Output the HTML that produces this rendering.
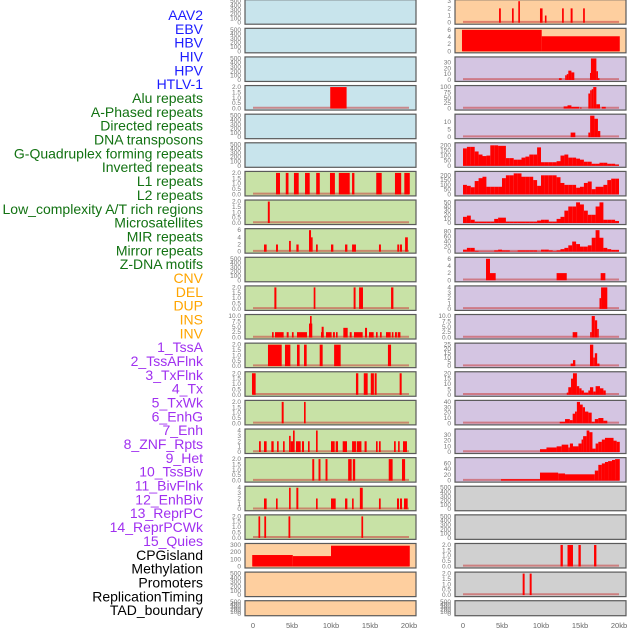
<!DOCTYPE html>
<html><head><meta charset="utf-8">
<style>
html,body{margin:0;padding:0;background:#fff;}
svg{display:block;font-family:"Liberation Sans",sans-serif;}
</style></head>
<body>
<svg id="chart" width="630" height="630" viewBox="0 0 630 630"></svg>
<script>
// ---------- data ----------
const labels = ["AAV2","EBV","HBV","HIV","HPV","HTLV-1","Alu repeats","A-Phased repeats","Directed repeats","DNA transposons","G-Quadruplex forming repeats","Inverted repeats","L1 repeats","L2 repeats","Low_complexity A/T rich regions","Microsatellites","MIR repeats","Mirror repeats","Z-DNA motifs","CNV","DEL","DUP","INS","INV","1_TssA","2_TssAFlnk","3_TxFlnk","4_Tx","5_TxWk","6_EnhG","7_Enh","8_ZNF_Rpts","9_Het","10_TssBiv","11_BivFlnk","12_EnhBiv","13_ReprPC","14_ReprPCWk","15_Quies","CPGisland","Methylation","Promoters","ReplicationTiming","TAD_boundary"];
const labelGroups = [6,13,5,15,5];
const groupColors = ["#1c1cff","#127212","#ffa500","#a030f0","#000000"];
const xTicks = [0,5,10,15,20];
const xTickLabels = ["0","5kb","10kb","15kb","20kb"];

const ticks500 = [0,100,200,300,400,500];
const ticks2 = [0,0.5,1,1.5,2];
const ticks2Lab = ["0.0","0.5","1.0","1.5","2.0"];
const ticks10 = [0,2.5,5,7.5,10];
const ticks10Lab = ["0.0","2.5","5.0","7.5","10.0"];

// segments: [startKb, endKb, value]
const L3 = [[9.9,12.0,2]];
const L6 = [[2.95,3.46,2],[4.2,4.55,2],[5.25,5.86,2],[6.67,7.27,2],[8.1,8.56,2],[9.87,10.5,2],[11.0,12.4,2],[12.7,13.0,2],[15.8,16.5,2],[18.2,19.0,2],[19.4,20.1,2]];
const L7 = [[1.9,2.15,2]];
const L8 = [[1.41,1.75,2],[2.95,3.2,2],[4.62,4.85,3],[5.56,5.85,2],[7.18,7.44,6],[7.44,7.6,4],[8.08,8.3,2],[10.0,10.3,2],[11.8,12.1,2],[12.7,13.2,2],[16.15,16.4,2],[18.5,18.75,2],[18.85,19.1,2],[19.5,19.85,4]];
const L10 = [[2.74,3.0,2],[7.78,8.0,2],[12.9,13.15,2],[13.6,14.1,2],[17.7,18.0,2]];
const L11 = [[2.44,2.65,2.5],[2.82,3.93,2.5],[4.32,4.57,2.5],[4.99,5.21,2.5],[5.64,6.92,2.5],[7.18,7.6,6.5],[7.31,7.52,10],[8.72,9.06,2.5],[8.8,9.06,5],[9.36,10.08,2.5],[10.25,10.5,2.5],[10.64,10.85,2.5],[11.58,12.14,4.5],[12.4,12.65,2.5],[12.95,14.06,2.5],[14.36,14.62,4.5],[14.87,15.47,2.5],[15.77,15.98,2.5],[16.28,16.5,2.5],[17.05,17.65,2.5],[17.8,18.0,2.5],[18.2,18.45,2.5],[18.55,18.9,2.5]];
const L12 = [[1.92,3.68,2],[4.1,4.79,2],[5.64,5.98,2],[6.54,6.88,2],[8.55,8.93,2],[10.4,11.24,2],[17.3,17.7,2]];
const L13 = [[-0.13,0.34,2],[13.2,13.5,2],[14.2,14.7,2],[15.1,15.5,2],[15.6,15.85,2],[18.8,19.06,2]];
const L14 = [[3.68,3.93,2],[6.54,6.75,2]];
const L15 = [[0.77,1.0,2],[1.41,1.75,2],[2.35,2.65,2],[3.08,3.29,2],[3.85,4.06,2],[4.62,4.83,3],[4.83,5.13,2],[5.13,5.34,4],[5.51,6.11,2],[6.28,6.54,2],[7.05,7.26,2],[8.08,8.29,4],[10.0,10.47,2],[10.6,10.9,2],[11.5,12.05,2],[12.7,13.2,2],[13.3,13.9,2],[14.3,14.57,2],[15.77,15.98,2],[16.15,16.37,2],[18.08,18.3,2],[18.6,18.8,2],[19.23,19.74,2]];
const L16 = [[7.6,7.85,2],[8.4,8.65,2],[9.3,9.55,2],[12.2,12.65,2],[12.8,13.1,2],[17.4,17.9,2],[19.1,19.5,2]];
const L17 = [[1.41,1.75,2],[2.95,3.16,2],[4.62,4.83,4],[5.56,5.81,4],[8.08,8.29,2],[10.0,10.6,2],[11.8,12.1,2],[12.7,12.9,2],[13.7,14.07,4],[16.15,16.37,2],[18.46,18.72,2],[18.85,19.1,2],[19.36,19.83,2]];
const L18 = [[0.7,0.92,2],[1.45,1.68,2],[4.55,4.78,2],[13.9,14.12,2]];
const L19 = [[-0.1,5.1,160],[5.1,10.0,145],[10.0,20.1,290]];

const R0 = [[4.62,4.85,2],[6.28,6.5,2],[7.09,7.3,3],[9.87,10.2,2],[10.5,10.65,1],[12.7,12.92,2],[13.8,14.05,2],[15.4,15.62,2]];
const R1 = [[-0.13,10.09,6],[10.09,20.1,4.2]];
const R2 = [[12.3,12.65,3],[13.1,13.3,8],[13.3,13.5,10],[13.5,13.9,16],[13.9,14.27,13],[16.28,16.4,12],[16.4,17.1,37],[17.1,17.2,15],[17.2,17.5,3]];
const R3 = [[12.9,13.4,10],[13.4,13.9,15],[13.9,14.9,8],[15.0,15.2,5],[16.07,16.3,70],[16.3,16.5,85],[16.5,16.7,90],[16.7,17.1,100],[17.1,17.56,20],[17.8,18.3,8]];
const R4 = [[13.8,14.4,3],[16.07,16.3,3],[16.3,16.85,14],[16.85,17.3,12],[17.3,17.6,4]];
// 0.5 kb bins starting at 0 kb
const R5 = [170,185,185,140,110,95,100,200,200,195,195,75,75,60,60,80,90,110,110,180,35,35,35,35,45,100,110,80,80,70,60,40,40,20,20,30,30,20,20,10];
const R6 = [100,90,75,140,170,185,80,80,80,80,170,200,200,220,220,185,185,185,150,90,200,200,200,200,180,120,100,100,100,70,80,120,135,55,80,80,100,150,165,165];
const R7 = [15,18,8,3,3,3,3,3,10,13,13,3,3,3,3,3,3,3,3,6,8,8,3,3,10,15,30,40,40,50,45,30,20,20,40,50,8,8,8,5];
const R8 = [8,15,15,3,1,1,1,1,5,8,5,5,1,1,5,5,5,5,5,1,8,8,5,2,5,10,15,25,40,30,20,20,25,55,85,55,15,10,7,7];
const R9 = [[2.95,3.46,6],[3.46,4.19,2],[12.0,13.3,2],[17.65,18.25,2]];
const R10 = [[17.5,17.7,2],[17.7,18.5,4]];
const R11 = [[14.06,14.65,2.5],[16.3,16.5,2.5],[16.5,16.9,10],[16.9,17.2,8],[17.2,17.3,4]];
const R12 = [[13.8,14.1,3],[14.1,14.4,7],[16.28,16.7,25],[16.7,16.9,10],[16.9,17.2,15],[17.2,17.5,3]];
const R13 = [[13.3,13.5,2],[13.5,13.85,7],[13.85,14.1,15],[14.1,14.6,20],[14.6,14.9,8],[14.9,15.2,6],[15.2,15.5,4],[15.5,16.07,2],[16.07,16.28,4],[16.28,16.7,7],[16.7,17.0,3],[17.0,17.56,8],[17.56,18.0,6],[18.0,18.3,4]];
const R14 = [[12.4,13.08,3],[13.08,13.7,8],[13.7,14.06,6],[14.06,14.36,18],[14.36,14.6,22],[14.6,15.0,40],[15.0,15.35,35],[15.35,15.64,30],[15.64,16.07,22],[16.07,16.5,20],[16.5,16.9,3],[16.9,17.35,8],[17.35,18.0,10],[18.0,18.5,5]];
const R15 = [[9.87,10.7,5],[10.7,12.0,8],[12.0,12.65,10],[12.65,13.5,13],[13.5,13.7,8],[13.7,14.1,15],[14.1,14.8,10],[14.8,15.2,15],[15.2,15.4,22],[15.4,15.85,28],[15.85,16.2,38],[16.2,16.6,35],[16.6,17.0,6],[17.0,17.35,15],[17.35,17.8,18],[17.8,18.2,22],[18.2,19.3,25],[19.3,19.7,20],[19.7,20.1,18]];
const R16 = [[4.87,9.87,5],[9.87,12.2,28],[12.2,13.08,25],[13.08,16.9,22],[16.9,17.35,35],[17.35,17.8,55],[17.8,18.2,60],[18.2,18.6,65],[18.6,19.1,68],[19.1,19.5,72],[19.5,20.1,75]];
const R19 = [[12.5,12.8,2],[13.4,14.1,2],[14.8,15.1,2],[16.8,17.1,2]];
const R20 = [[7.65,7.9,2],[8.55,8.8,2]];

const BLUE="#c8e4ec", GREEN="#c8e2a6", ORANGE="#fecf9f", PURPLE="#d4c5e2", GRAY="#d0d0d0";
const E = null;
// [bg, max, ticks, tickLabels, data, isBins]
const leftPanels = [
 [BLUE,500,ticks500,null,E],[BLUE,500,ticks500,null,E],[BLUE,500,ticks500,null,E],
 [BLUE,2,ticks2,ticks2Lab,L3],[BLUE,500,ticks500,null,E],[BLUE,500,ticks500,null,E],
 [GREEN,2,ticks2,ticks2Lab,L6],[GREEN,2,ticks2,ticks2Lab,L7],[GREEN,6,[0,2,4,6],null,L8],
 [GREEN,500,ticks500,null,E],[GREEN,2,ticks2,ticks2Lab,L10],[GREEN,10,ticks10,ticks10Lab,L11],
 [GREEN,2,ticks2,ticks2Lab,L12],[GREEN,2,ticks2,ticks2Lab,L13],[GREEN,2,ticks2,ticks2Lab,L14],
 [GREEN,4,[0,1,2,3,4],null,L15],[GREEN,2,ticks2,ticks2Lab,L16],[GREEN,4,[0,1,2,3,4],null,L17],
 [GREEN,2,ticks2,ticks2Lab,L18],[ORANGE,300,[0,100,200,300],null,L19],[ORANGE,500,ticks500,null,E],[ORANGE,500,ticks500,null,E]
];
const rightPanels = [
 [ORANGE,3,[0,1,2,3],null,R0],[ORANGE,6,[0,2,4,6],null,R1],[PURPLE,37,[0,10,20,30],null,R2],
 [PURPLE,100,[0,25,50,75,100],null,R3],[PURPLE,14,[0,5,10],null,R4],[PURPLE,210,[0,50,100,150,200],null,R5,true],
 [PURPLE,225,[0,50,100,150,200],null,R6,true],[PURPLE,52,[0,10,20,30,40,50],null,R7,true],[PURPLE,85,[0,20,40,60,80],null,R8,true],
 [PURPLE,6,[0,2,4,6],null,R9],[PURPLE,4,[0,1,2,3,4],null,R10],[PURPLE,10,ticks10,ticks10Lab,R11],
 [PURPLE,25,[0,5,10,15,20,25],null,R12],[PURPLE,20,[0,5,10,15,20],null,R13],[PURPLE,40,[0,10,20,30,40],null,R14],
 [PURPLE,38,[0,10,20,30],null,R15],[PURPLE,75,[0,20,40,60],null,R16],[GRAY,500,ticks500,null,E],
 [GRAY,500,ticks500,null,E],[GRAY,2,ticks2,ticks2Lab,R19],[GRAY,2,ticks2,ticks2Lab,R20],[GRAY,500,ticks500,null,E]
];

// ---------- drawing ----------
const NS="http://www.w3.org/2000/svg";
const svg=document.getElementById("chart");
function mk(tag,attrs,parent){const e=document.createElementNS(NS,tag);for(const k in attrs)e.setAttribute(k,attrs[k]);(parent||svg).appendChild(e);return e;}

// labels
let li=0;
labelGroups.forEach((n,g)=>{for(let j=0;j<n;j++){
  const t=mk("text",{x:203,y:15+li*13.84+5,"text-anchor":"end","font-size":"14",fill:groupColors[g]});
  t.textContent=labels[li];
  
  
  li++;}});

const PITCH=28.62;
function drawColumn(panels, px0, side){
  const pw=171, x0kb=px0+8, kbpx=7.8;
  const xs=kb=>x0kb+kb*kbpx;
  panels.forEach((p,r)=>{
    const [bg,max,ticks,tlab,data,isBins]=p;
    const top=r*PITCH-0.3, h=(r===21)?15:24.5;
    const g=mk("g",{});
    
    
    mk("rect",{x:px0,y:top,width:pw,height:h,fill:bg,stroke:"#5a5a5a","stroke-width":1.2},g);
    const y0=top+h-1.5, ytop=top+1.5;
    const ys=v=>y0-(v/max)*(y0-ytop);
    ticks.forEach((tv,i)=>{
      const t=mk("text",{x:px0-4,y:ys(tv)+2,"text-anchor":"end","font-size":"6.5",fill:"#777"},g);
      t.textContent=tlab?tlab[i]:String(tv);
      
      
    });
    if(data){
      mk("line",{x1:xs(0),x2:xs(20),y1:y0-0.8,y2:y0-0.8,stroke:"rgba(200,60,60,0.55)","stroke-width":2},g);
      const segs = isBins ? data.map((v,i)=>[i*0.5,i*0.5+0.5,v]) : data;
      segs.forEach(s=>{
        const xa=xs(s[0]), xb=Math.max(xs(s[1]),xa+1.6);
        const b=mk("rect",{x:xa,y:ys(s[2]),width:xb-xa,height:y0-ys(s[2]),fill:"#ff0000"},g);
        
        
      });
    }
  });
  xTicks.forEach((kb,i)=>{
    const t=mk("text",{x:xs(kb),y:628,"text-anchor":"middle","font-size":"7.5",fill:"#666"});
    t.textContent=xTickLabels[i];
    
    
  });
}
drawColumn(leftPanels,245,'left');
drawColumn(rightPanels,455,'right');
</script>
</body></html>
